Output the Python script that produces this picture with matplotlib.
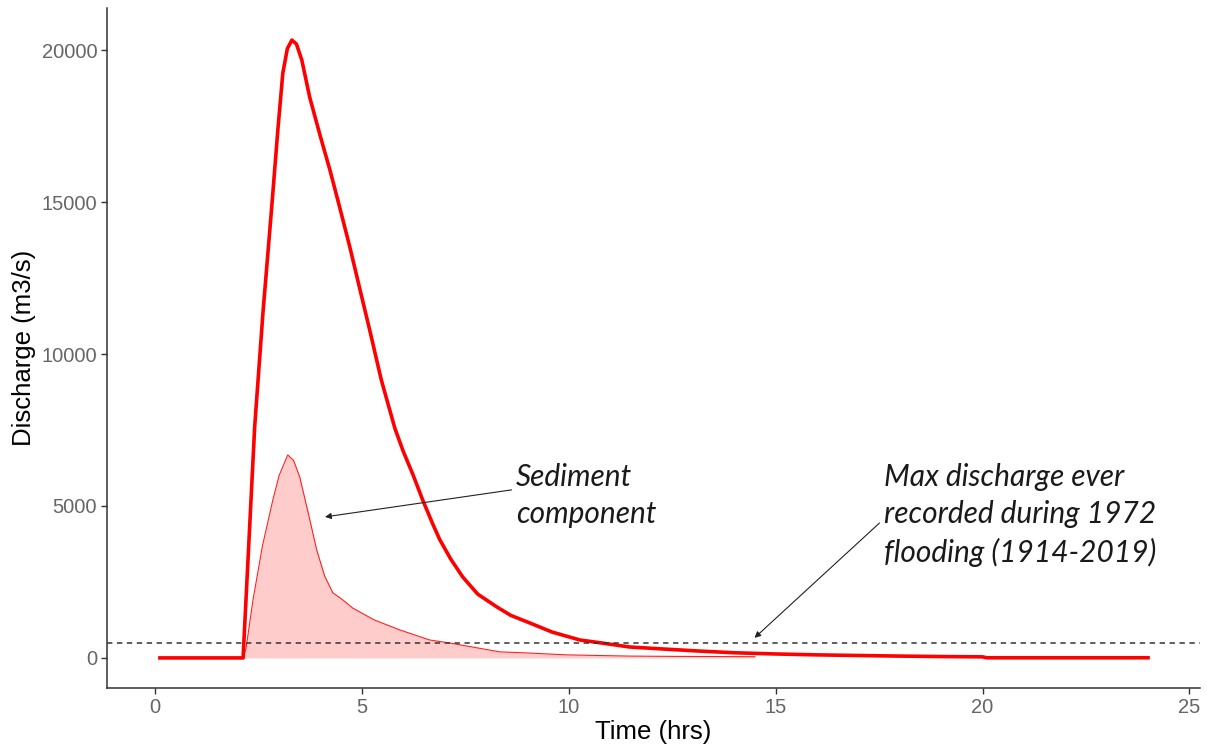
import matplotlib
matplotlib.use("Agg")
import matplotlib.pyplot as plt

# Total discharge hydrograph (hrs, m3/s)
time_total = [0.12, 2.13, 2.2, 2.41, 2.61, 2.83, 2.97, 3.09, 3.2, 3.31, 3.42, 3.55,
              3.74, 4.0, 4.23, 4.47, 4.71, 4.95, 5.19, 5.47, 5.8, 6.0, 6.23, 6.47,
              6.7, 6.88, 7.15, 7.44, 7.8, 8.26, 8.6, 9.06, 9.6, 10.27, 10.75, 11.47,
              12.2, 13.09, 14.0, 15.0, 16.0, 17.0, 18.0, 19.0, 20.0, 20.1, 22.0, 24.0]
discharge_total = [0, 0, 1900, 7600, 11350, 14970, 17370, 19240, 20050, 20330, 20200, 19670,
                   18450, 17150, 16050, 14800, 13520, 12150, 10790, 9150, 7550, 6800, 6050, 5200,
                   4450, 3900, 3250, 2660, 2100, 1680, 1400, 1150, 850, 590, 500, 360,
                   300, 230, 170, 130, 100, 80, 60, 45, 35, 5, 5, 5]

# Sediment component
time_sed = [2.13, 2.2, 2.37, 2.6, 2.85, 3.0, 3.21, 3.35, 3.5, 3.7, 3.91, 4.1, 4.3,
            4.45, 4.54, 4.78, 5.3, 5.92, 6.64, 7.13, 8.33, 9.06, 9.95, 11.47, 12.6, 14.5]
discharge_sed = [0, 300, 1910, 3700, 5200, 6000, 6680, 6500, 5950, 4800, 3550, 2700, 2140,
                 2000, 1910, 1640, 1250, 920, 590, 490, 200, 160, 100, 60, 50, 40]

max_recorded = 500

x_ticks = [0, 5, 10, 15, 20, 25]
y_ticks = [0, 5000, 10000, 15000, 20000]

fig = plt.figure(figsize=(12.07, 7.52), dpi=100)
ax = fig.add_axes([0.0886, 0.0851, 0.9054, 0.904])

ax.fill_between(time_sed, discharge_sed, 0, color="#ffcccc", lw=0)
ax.plot(time_sed, discharge_sed, color="#ff2020", lw=0.8)
ax.plot(time_total, discharge_total, color="#ff0000", lw=2.6, solid_joinstyle="round")
ax.axhline(max_recorded, color="#333333", lw=1.1, ls=(0, (3.5, 3)))

ax.set_xlim(-1.16, 25.25)
ax.set_ylim(-990, 21380)
ax.set_xticks(x_ticks)
ax.set_yticks(y_ticks)

for side in ["top", "right"]:
    ax.spines[side].set_visible(False)
for side in ["left", "bottom"]:
    ax.spines[side].set_color("#333333")
    ax.spines[side].set_linewidth(1.1)
ax.tick_params(colors="#333333", labelcolor="#666666", labelsize=14.5, length=4, width=1.0, pad=3)
for lab in ax.get_xticklabels() + ax.get_yticklabels():
    lab.set_family("Liberation Sans")

ax.set_xlabel("Time (hrs)", fontsize=18.5, family="Liberation Sans", labelpad=2)
ax.set_ylabel("Discharge (m3/s)", fontsize=18.5, family="Liberation Sans", labelpad=4)

note_font = dict(family="Lato", style="italic", fontsize=21.5, color="#1a1a1a")
ax.text(8.72, 5350, "Sediment\ncomponent", ha="left", va="center", linespacing=1.4, **note_font)
ax.text(17.63, 4700, "Max discharge ever\nrecorded during 1972\nflooding (1914-2019)",
        ha="left", va="center", linespacing=1.4, **note_font)

arrow = dict(arrowstyle="-|>", color="#222222", lw=0.8, mutation_scale=9, shrinkA=0, shrinkB=0)
ax.annotate("", xy=(4.11, 4640), xytext=(8.62, 5530), arrowprops=arrow)
ax.annotate("", xy=(14.49, 660), xytext=(17.51, 4440), arrowprops=arrow)

fig.savefig("out.png", dpi=100)
